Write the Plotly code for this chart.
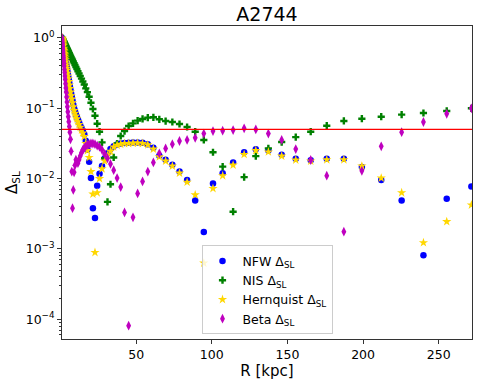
import plotly.graph_objects as go

# radii (kpc), log-spaced grid
radius_kpc = [
    1.03, 1.10, 1.17, 1.24, 1.32, 1.40, 1.49, 1.59, 1.69, 1.80,
    1.91, 2.04, 2.17, 2.31, 2.45, 2.61, 2.78, 2.95, 3.14, 3.34,
    3.56, 3.78, 4.03, 4.28, 4.56, 4.85, 5.16, 5.49, 5.84, 6.21,
    6.61, 7.03, 7.48, 7.95, 8.46, 9.00, 9.58, 10.19, 10.84, 11.53,
    12.27, 13.05, 13.89, 14.78, 15.72, 16.72, 17.79, 18.93, 20.14, 21.43,
    22.80, 24.25, 25.80, 27.45, 29.20, 31.07, 33.05, 35.16, 37.41, 39.80,
    42.34, 45.05, 47.93, 50.99, 54.25, 57.71, 61.40, 65.32, 69.50, 73.94,
    78.66, 83.69, 89.04, 94.73, 100.8, 107.2, 114.1, 121.4, 129.1, 137.4,
    146.2, 155.5, 165.4, 176.0, 187.3, 199.2, 212.0, 225.5, 239.9, 255.3,
    271.6,
]

delta_nfw = [
    1.0, 0.977, 0.955, 0.933, 0.912, 0.891, 0.871, 0.841, 0.813, 0.794,
    0.767, 0.741, 0.708, 0.676, 0.646, 0.617, 0.589, 0.556, 0.525, 0.490,
    0.457, 0.427, 0.398, 0.372, 0.339, 0.309, 0.282, 0.257, 0.229, 0.204,
    0.182, 0.162, 0.145, 0.129, 0.112, 0.100, 0.0912, 0.0832, 0.0759, 0.0692,
    0.0631, 0.0575, 0.0525, 0.0479, 0.0427, 0.0347, 0.0257, 0.0174, 0.0102, 0.00380,
    0.00275, 0.00794, 0.0117, 0.0151, 0.0195, 0.0229, 0.0263, 0.0288, 0.0305, 0.0316,
    0.0321, 0.0324, 0.0326, 0.0326, 0.0324, 0.0309, 0.0275, 0.0212, 0.0186, 0.0158,
    0.0126, 0.00955, 0.00490, 0.00174, 0.00851, 0.0119, 0.0170, 0.0237, 0.0261, 0.0251,
    0.0219, 0.0191, 0.0182, 0.0191, 0.0191, 0.0146, 0.00955, 0.00490, 0.000813, 0.00519,
    0.00776,
]

delta_nis = [
    1.0, 0.993, 0.986, 0.979, 0.971, 0.962, 0.953, 0.944, 0.933, 0.923,
    0.912, 0.902, 0.889, 0.875, 0.863, 0.849, 0.834, 0.820, 0.804, 0.787,
    0.769, 0.752, 0.733, 0.715, 0.693, 0.673, 0.652, 0.630, 0.608, 0.585,
    0.561, 0.537, 0.513, 0.489, 0.463, 0.438, 0.412, 0.387, 0.362, 0.337,
    0.312, 0.288, 0.264, 0.240, 0.218, 0.192, 0.170, 0.146, 0.120, 0.0977,
    0.0785, 0.0604, 0.0465, 0.0328, 0.0195, 0.00468, 0.00832, 0.0200, 0.0316, 0.0404,
    0.0475, 0.0560, 0.0611, 0.0667, 0.0705, 0.0736, 0.0745, 0.0697, 0.0659, 0.0638,
    0.0598, 0.0542, 0.0465, 0.0355, 0.0237, 0.0148, 0.00339, 0.0105, 0.0209, 0.0269,
    0.0331, 0.0389, 0.0465, 0.0566, 0.0661, 0.0711, 0.0759, 0.0813, 0.0857, 0.0916,
    0.100,
]

delta_hernquist = [
    1.0, 0.972, 0.948, 0.923, 0.900, 0.877, 0.855, 0.822, 0.794, 0.772,
    0.716, 0.692, 0.661, 0.631, 0.603, 0.575, 0.550, 0.519, 0.490, 0.457,
    0.427, 0.398, 0.372, 0.347, 0.316, 0.288, 0.263, 0.240, 0.214, 0.191,
    0.170, 0.151, 0.135, 0.120, 0.105, 0.0933, 0.0851, 0.0776, 0.0708, 0.0646,
    0.0589, 0.0537, 0.0490, 0.0447, 0.0398, 0.0316, 0.0251, 0.0200, 0.0126, 0.00603,
    0.000891, 0.00631, 0.0100, 0.0138, 0.0178, 0.0214, 0.0245, 0.0282, 0.0299, 0.0309,
    0.0316, 0.0316, 0.0320, 0.0320, 0.0316, 0.0302, 0.0263, 0.0204, 0.0178, 0.0151,
    0.0120, 0.00891, 0.00589, 0.000631, 0.00724, 0.0110, 0.0156, 0.0221, 0.0251, 0.0240,
    0.0209, 0.0184, 0.0178, 0.0186, 0.0186, 0.0151, 0.0102, 0.00631, 0.00123, 0.00245,
    0.00422,
]

delta_beta = [
    1.0, 0.955, 0.912, 0.871, 0.832, 0.785, 0.741, 0.692, 0.653, 0.610,
    0.562, 0.525, 0.479, 0.437, 0.398, 0.355, 0.324, 0.288, 0.257, 0.224,
    0.195, 0.170, 0.145, 0.123, 0.105, 0.0891, 0.0759, 0.0646, 0.0550, 0.0457,
    0.0363, 0.0245, 0.0126, 0.00380, 0.00692, 0.0123, 0.0155, 0.0186, 0.0174, 0.0166,
    0.0186, 0.0209, 0.0234, 0.0257, 0.0275, 0.0288, 0.0302, 0.0309, 0.0316, 0.0316,
    0.0309, 0.0295, 0.0282, 0.0257, 0.0224, 0.0195, 0.0162, 0.0132, 0.0102, 0.00759,
    0.00331, 0.0000813, 0.00282, 0.00617, 0.00912, 0.0126, 0.0170, 0.0229, 0.0269, 0.0309,
    0.0343, 0.0355, 0.0380, 0.0437, 0.0475, 0.0481, 0.0490, 0.0519, 0.0501, 0.0437,
    0.0355, 0.0263, 0.0184, 0.0110, 0.00176, 0.0129, 0.0288, 0.0457, 0.0638, 0.0837,
    0.100,
]

threshold = 0.05

x_ticks = [50, 100, 150, 200, 250]
y_ticks = [1, 0.1, 0.01, 0.001, 0.0001]
y_tick_text = ["10<sup>0</sup>", "10<sup>\u22121</sup>", "10<sup>\u22122</sup>",
               "10<sup>\u22123</sup>", "10<sup>\u22124</sup>"]

series = [
    ("NFW", delta_nfw, "blue", "circle", 6.5),
    ("NIS", delta_nis, "green", "cross", 6),
    ("Hernquist", delta_hernquist, "gold", "star", 7),
    ("Beta", delta_beta, "#bf00bf", "diamond-tall", 7),
]

fig = go.Figure()
for name, vals, color, symbol, size in series:
    fig.add_trace(go.Scatter(
        x=radius_kpc, y=vals, mode="markers",
        name=f"{name} \u0394<sub>SL</sub>",
        marker=dict(color=color, symbol=symbol, size=size, line=dict(width=0)),
    ))

fig.add_hline(y=threshold, line=dict(color="#ff0000", width=1.3))

font = "DejaVu Sans"
fig.update_layout(
    width=480, height=384,
    margin=dict(l=62, r=8, t=26, b=45),
    paper_bgcolor="white", plot_bgcolor="white",
    font=dict(family=font, size=12, color="black"),
    title=dict(text="A2744", x=0.5, xref="paper", xanchor="center",
               y=0.963, yanchor="middle", font=dict(size=19)),
    showlegend=True,
    legend=dict(x=0.5, xanchor="center", y=0.015, yanchor="bottom",
                bgcolor="rgba(255,255,255,0.8)", bordercolor="#cccccc",
                borderwidth=1, font=dict(size=12.5), tracegroupgap=0),
)
fig.update_xaxes(
    range=[1, 272], tickvals=x_ticks, showgrid=False, zeroline=False,
    automargin=False,
    showline=True, mirror=True, linecolor="#333333", linewidth=1,
    ticks="outside", ticklen=4, tickcolor="#333333",
    tickfont=dict(size=12.5),
    title=dict(text="R [kpc]", font=dict(size=15), standoff=2),
)
fig.update_yaxes(
    type="log", range=[-4.28, 0.17], tickvals=y_ticks, ticktext=y_tick_text,
    showgrid=False, zeroline=False, automargin=False,
    showline=True, mirror=True, linecolor="#333333", linewidth=1,
    ticks="outside", ticklen=4, tickcolor="#333333",
    tickfont=dict(size=12.5),
    minor=dict(ticks="outside", ticklen=2, tickcolor="#333333", dtick="D1", showgrid=False),
    title=dict(text="\u0394<sub>SL</sub>", font=dict(size=15), standoff=4),
)

# the page body has a default 8px margin; drop it so the figure fills the window
fig.write_html("out.html", config={"displayModeBar": False},
               post_script="document.body.style.margin='0';")
